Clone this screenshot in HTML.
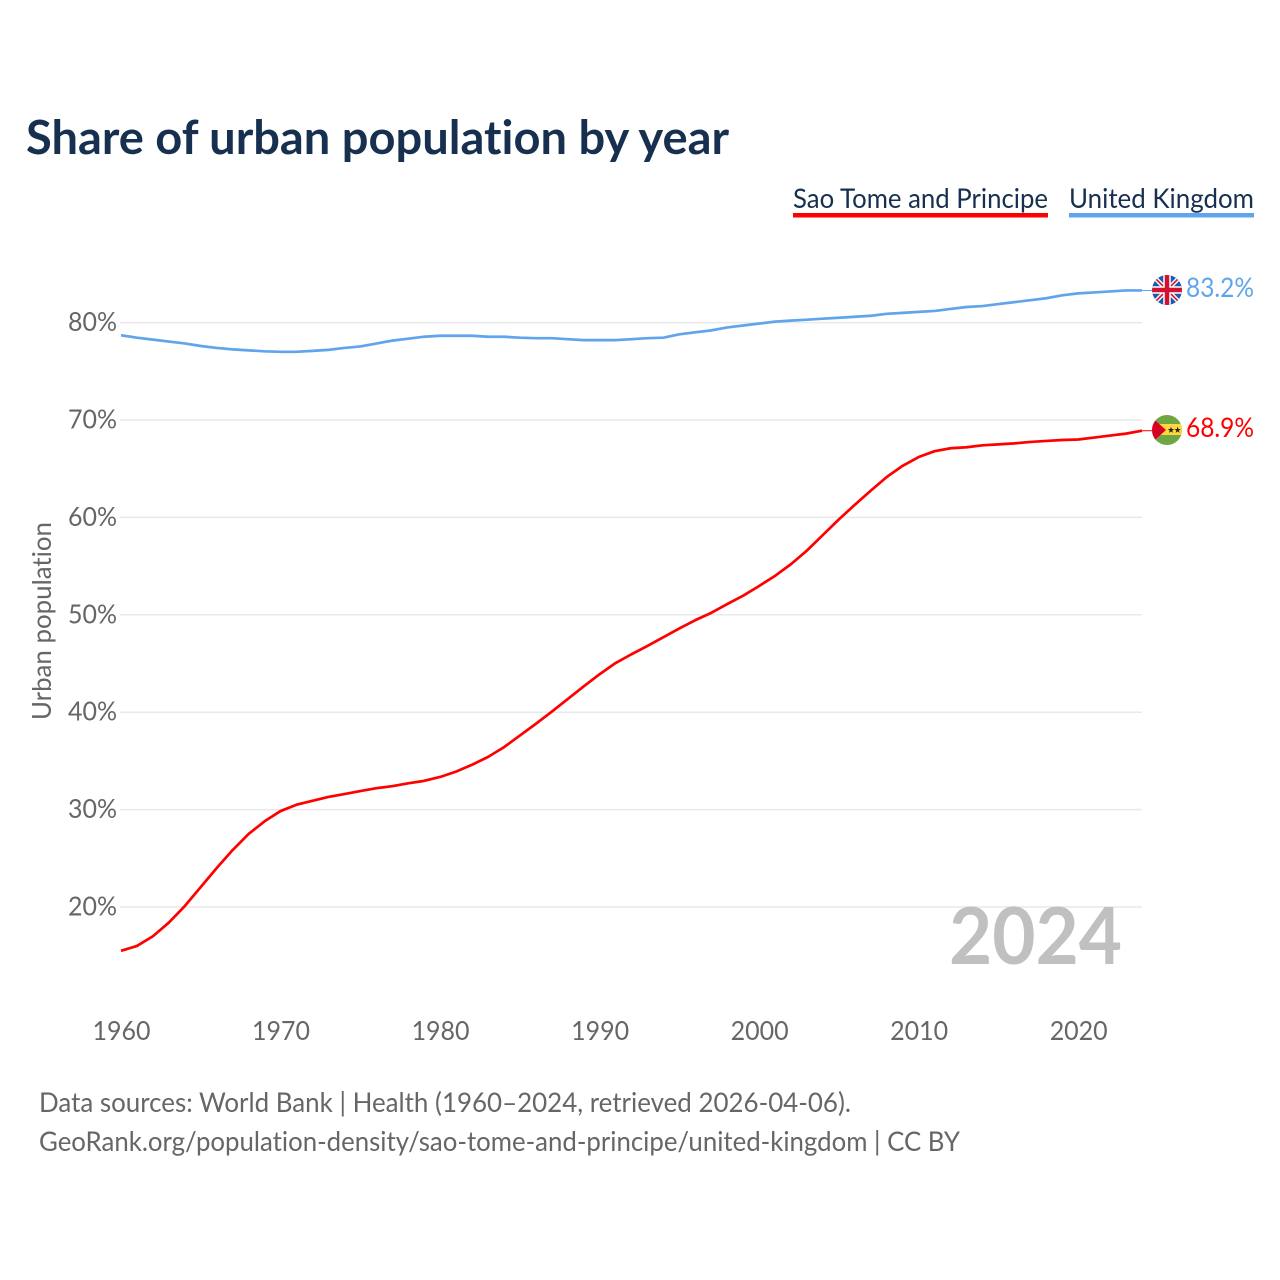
<!DOCTYPE html>
<html lang="en">
<head>
<meta charset="utf-8">
<title>Share of urban population by year</title>
<style>
html,body{margin:0;padding:0;background:#fff;}
svg{display:block;}
text{font-family:Lato,Carlito,"Liberation Sans",sans-serif;font-variant-ligatures:none;}
</style>
</head>
<body>
<svg id="chart" xmlns="http://www.w3.org/2000/svg" width="1280" height="1280" viewBox="0 0 1280 1280">
  <defs>
    <clipPath id="uk-clip"><circle cx="1167" cy="290" r="15"/></clipPath>
    <clipPath id="st-clip"><circle cx="1167" cy="430" r="15"/></clipPath>
  </defs>
  <rect width="1280" height="1280" fill="#fff"/>
  <text x="26" y="154" font-size="47" font-weight="700" fill="#17304f" textLength="703" lengthAdjust="spacingAndGlyphs">Share of urban population by year</text>

  <g>
    <g>
      <text x="793" y="208" font-size="27" fill="#17304f" textLength="255" lengthAdjust="spacingAndGlyphs">Sao Tome and Principe</text>
      <rect x="793" y="213" width="255" height="4.5" fill="#ff0000"/>
    </g>
    <g>
      <text x="1069" y="208" font-size="27" fill="#17304f" textLength="185" lengthAdjust="spacingAndGlyphs">United Kingdom</text>
      <rect x="1069" y="213" width="185" height="4.5" fill="#60a5ec"/>
    </g>
  </g>

  <g id="grid"></g>
  <g id="y-ticks"></g>
  <g id="x-ticks"></g>
  <text transform="translate(51 720) rotate(-90)" font-size="26" fill="#666" textLength="198" lengthAdjust="spacingAndGlyphs">Urban population</text>
  <text x="949" y="964" font-size="79" font-weight="700" fill="#c0c0c0" textLength="173" lengthAdjust="spacingAndGlyphs">2024</text>

  <g id="series"></g>

  <g clip-path="url(#uk-clip)">
    <rect x="1152" y="275" width="30" height="30" fill="#1a5bb0"/>
    <path d="M1152 275L1182 305M1182 275L1152 305" stroke="#fff" stroke-width="4.5"/>
    <path d="M1152 275L1182 305M1182 275L1152 305" stroke="#d0122f" stroke-width="1.6"/>
    <path d="M1167 275V305M1152 290H1182" stroke="#fff" stroke-width="7.5"/>
    <path d="M1167 275V305M1152 290H1182" stroke="#d0122f" stroke-width="4.5"/>
  </g>
  <g clip-path="url(#st-clip)">
    <rect x="1152" y="415" width="30" height="30" fill="#6ea644"/>
    <rect x="1152" y="424" width="30" height="11" fill="#ffd83d"/>
    <path d="M1152 417.5L1166 430L1152 442.5Z" fill="#d80027"/>
    <polygon points="1171,426.6 1171.8,429 1174.2,429 1172.3,430.5 1173,432.9 1171,431.4 1169,432.9 1169.7,430.5 1167.8,429 1170.2,429" fill="#222"/>
    <polygon points="1177.6,426.6 1178.4,429 1180.8,429 1178.9,430.5 1179.6,432.9 1177.6,431.4 1175.6,432.9 1176.3,430.5 1174.4,429 1176.8,429" fill="#222"/>
  </g>

  <text id="uk-value" x="1186" y="297" font-size="27" fill="#60a5ec" textLength="68" lengthAdjust="spacingAndGlyphs">83.2%</text>
  <text id="st-value" x="1186" y="437" font-size="27" fill="#ff0000" textLength="68" lengthAdjust="spacingAndGlyphs">68.9%</text>

  <text x="39" y="1112" font-size="27" fill="#666" textLength="812" lengthAdjust="spacingAndGlyphs">Data sources: World Bank | Health (1960–2024, retrieved 2026-04-06).</text>
  <a><text x="39" y="1151" font-size="27" fill="#666" textLength="921" lengthAdjust="spacingAndGlyphs">GeoRank.org/population-density/sao-tome-and-principe/united-kingdom | CC BY</text></a>
</svg>
<script>
const startYear = 1960;
const xTickLabels = [1960, 1970, 1980, 1990, 2000, 2010, 2020];
const yTickLabels = [20, 30, 40, 50, 60, 70, 80];
const saoTomeValues = [15.5,16.0,17.0,18.4,20.1,22.05,24.0,25.85,27.5,28.8,29.85,30.5,30.9,31.3,31.6,31.9,32.2,32.4,32.7,32.95,33.35,33.9,34.6,35.4,36.4,37.6,38.8,40.05,41.35,42.65,43.9,45.05,45.95,46.8,47.7,48.6,49.45,50.2,51.1,51.96,52.96,54.0,55.2,56.6,58.2,59.8,61.3,62.75,64.15,65.3,66.2,66.8,67.1,67.2,67.4,67.5,67.6,67.75,67.85,67.95,68.0,68.2,68.4,68.6,68.9];
const ukValues = [78.7,78.45,78.25,78.05,77.86,77.6,77.4,77.25,77.15,77.05,77.0,77.0,77.1,77.2,77.4,77.55,77.85,78.15,78.35,78.55,78.65,78.65,78.65,78.55,78.55,78.45,78.4,78.4,78.3,78.2,78.2,78.2,78.3,78.4,78.45,78.8,79.0,79.2,79.5,79.7,79.9,80.1,80.2,80.3,80.4,80.5,80.6,80.7,80.9,81.0,81.1,81.2,81.4,81.6,81.7,81.9,82.1,82.3,82.5,82.8,83.0,83.1,83.2,83.3,83.3];

const NS = 'http://www.w3.org/2000/svg';
const xScale = year => 121 + (year - 1960) * (1142 - 121) / 64;
const yScale = pct => 907 - (pct - 20) * 9.74;

function make(tag, attrs, parent, content) {
  const el = document.createElementNS(NS, tag);
  for (const k in attrs) el.setAttribute(k, attrs[k]);
  if (content !== undefined) el.textContent = content;
  parent.appendChild(el);
  return el;
}

const gridGroup = document.getElementById('grid');
const yTickGroup = document.getElementById('y-ticks');
const xTickGroup = document.getElementById('x-ticks');
const seriesGroup = document.getElementById('series');

yTickLabels.forEach(v => {
  const line = make('line', {x1: 120, x2: 1142, y1: yScale(v), y2: yScale(v), stroke: '#e9e9e9', 'stroke-width': 1.5}, gridGroup);
  
  
  const label = make('text', {x: 117, y: yScale(v) + 8.5, 'font-size': 26, fill: '#666', 'text-anchor': 'end', textLength: 49, lengthAdjust: 'spacingAndGlyphs'}, yTickGroup, v + '%');
  
  
});

xTickLabels.forEach(y => {
  const label = make('text', {x: xScale(y) + 0.5, y: 1040, 'font-size': 26, fill: '#666', 'text-anchor': 'middle', textLength: 58, lengthAdjust: 'spacingAndGlyphs'}, xTickGroup, String(y));
  
  
});

function drawSeries(values, color, key) {
  const pts = values.map((v, i) => xScale(startYear + i).toFixed(2) + ',' + yScale(v).toFixed(2));
  const line = make('polyline', {points: pts.join(' '), fill: 'none', stroke: color, 'stroke-width': 2.7, 'stroke-linejoin': 'round'}, seriesGroup);
  
  
  const lastY = yScale(values[values.length - 1]);
  const connector = make('line', {x1: 1142, x2: 1152, y1: lastY, y2: lastY, stroke: color, 'stroke-width': 1}, seriesGroup);
  
  
}
drawSeries(ukValues, '#60a5ec', 'united-kingdom');
drawSeries(saoTomeValues, '#ff0000', 'sao-tome');
</script>
</body>
</html>
